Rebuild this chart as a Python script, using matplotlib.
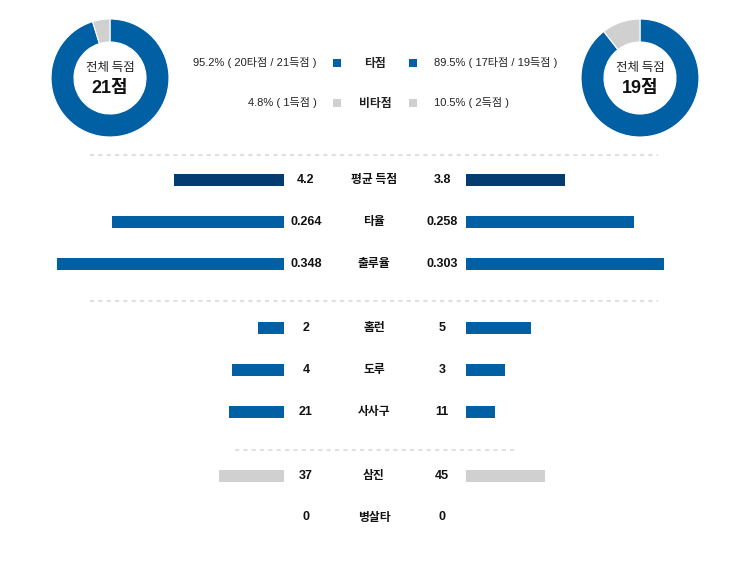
import matplotlib
matplotlib.use('Agg')
import matplotlib.pyplot as plt

plt.rcParams['font.family'] = ['Liberation Sans', 'Noto Sans CJK KR', 'DejaVu Sans']

# 전체 득점 (왼쪽 팀, 오른쪽 팀)
total_runs = [21, 19]
hit_runs = [20, 17]
nonhit_runs = [1, 2]

stat_labels = ['평균 득점', '타율', '출루율', '홈런', '도루', '사사구', '삼진', '병살타']
left_vals = [4.2, 0.264, 0.348, 2, 4, 21, 37, 0]
right_vals = [3.8, 0.258, 0.303, 5, 3, 11, 45, 0]
# 행별 막대 스케일 최대값
axis_max = [8.7, 0.348, 0.348, 17.5, 17.5, 87, 130, 10]

W, H = 748, 570
NAVY = '#023c70'
BLUE = '#0060a3'
GRAY = '#d0d0d0'
row_colors = [NAVY, BLUE, BLUE, BLUE, BLUE, BLUE, GRAY, GRAY]
row_y = [180, 222, 264, 328, 370, 412, 476, 517]

fig = plt.figure(figsize=(W / 100, H / 100), dpi=100)
ax = fig.add_axes([0, 0, 1, 1])
ax.set_xlim(0, W)
ax.set_ylim(H, 0)
ax.axis('off')


def px_axes(x0, y0, w, h):
    a = fig.add_axes([x0 / W, 1 - (y0 + h) / H, w / W, h / H])
    a.axis('off')
    return a


# 도넛 차트
def donut(cx, cy, hit, nonhit, total):
    r = 59
    a = px_axes(cx - r, cy - r, 2 * r, 2 * r)
    a.pie([hit, nonhit], colors=[BLUE, GRAY], startangle=90, counterclock=False,
          radius=1, wedgeprops=dict(width=23 / 59, edgecolor='white', linewidth=0.8))
    a.set_xlim(-1, 1)
    a.set_ylim(-1, 1)
    ax.text(cx, cy - 11, '전체 득점', ha='center', va='center', fontsize=9,
            family=['Noto Sans CJK KR'], color='#222222')
    ax.text(cx, cy + 10, f'{total}점', ha='center', va='center', fontsize=13,
            fontweight='bold', family=['Liberation Sans', 'Noto Sans CJK KR'], color='#111111')


donut(110, 78, hit_runs[0], nonhit_runs[0], total_runs[0])
donut(640, 78, hit_runs[1], nonhit_runs[1], total_runs[1])

# 범례
legend_rows = [
    ('타점', BLUE,
     f'{hit_runs[0] / total_runs[0] * 100:.1f}% ( {hit_runs[0]}타점 / {total_runs[0]}득점 )',
     f'{hit_runs[1] / total_runs[1] * 100:.1f}% ( {hit_runs[1]}타점 / {total_runs[1]}득점 )', 63),
    ('비타점', GRAY,
     f'{nonhit_runs[0] / total_runs[0] * 100:.1f}% ( {nonhit_runs[0]}득점 )',
     f'{nonhit_runs[1] / total_runs[1] * 100:.1f}% ( {nonhit_runs[1]}득점 )', 103),
]
for name, col, ltxt, rtxt, y in legend_rows:
    ax.text(317, y, ltxt, ha='right', va='center', fontsize=8, color='#222222')
    ax.text(375, y, name, ha='center', va='center', fontsize=8.5, fontweight='bold',
            family=['Noto Sans CJK KR'], color='#222222')
    ax.text(434, y, rtxt, ha='left', va='center', fontsize=8, color='#222222')
    for sx in (337, 413):
        ax.add_patch(plt.Rectangle((sx - 4, y - 4), 8, 8, color=col, lw=0))

# 점선 구분선
for x0, x1, y in [(90, 658, 155), (90, 658, 301), (235, 514, 450)]:
    ax.plot([x0, x1], [y, y], color='#e0e0e0', lw=1.5, ls=(0, (2, 2)))

# 비교 막대
bar_w = 227
bar_h = 12
for i, lab in enumerate(stat_labels):
    y = row_y[i]
    la = px_axes(284 - bar_w, y - 10, bar_w, 20)
    la.barh(0, left_vals[i], height=bar_h / 20, color=row_colors[i])
    la.set_xlim(axis_max[i], 0)
    la.set_ylim(-0.5, 0.5)
    ra = px_axes(466, y - 10, bar_w, 20)
    ra.barh(0, right_vals[i], height=bar_h / 20, color=row_colors[i])
    ra.set_xlim(0, axis_max[i])
    ra.set_ylim(-0.5, 0.5)
    ax.text(306, y, str(left_vals[i]), ha='center', va='center', fontsize=9,
            fontweight='bold', family=['Liberation Sans Narrow', 'Liberation Sans'], color='#111111')
    ax.text(374, y, lab, ha='center', va='center', fontsize=8.5, fontweight='bold',
            family=['Noto Sans CJK KR'], color='#111111')
    ax.text(442, y, str(right_vals[i]), ha='center', va='center', fontsize=9,
            fontweight='bold', family=['Liberation Sans Narrow', 'Liberation Sans'], color='#111111')

fig.savefig('out.png', dpi=100)
